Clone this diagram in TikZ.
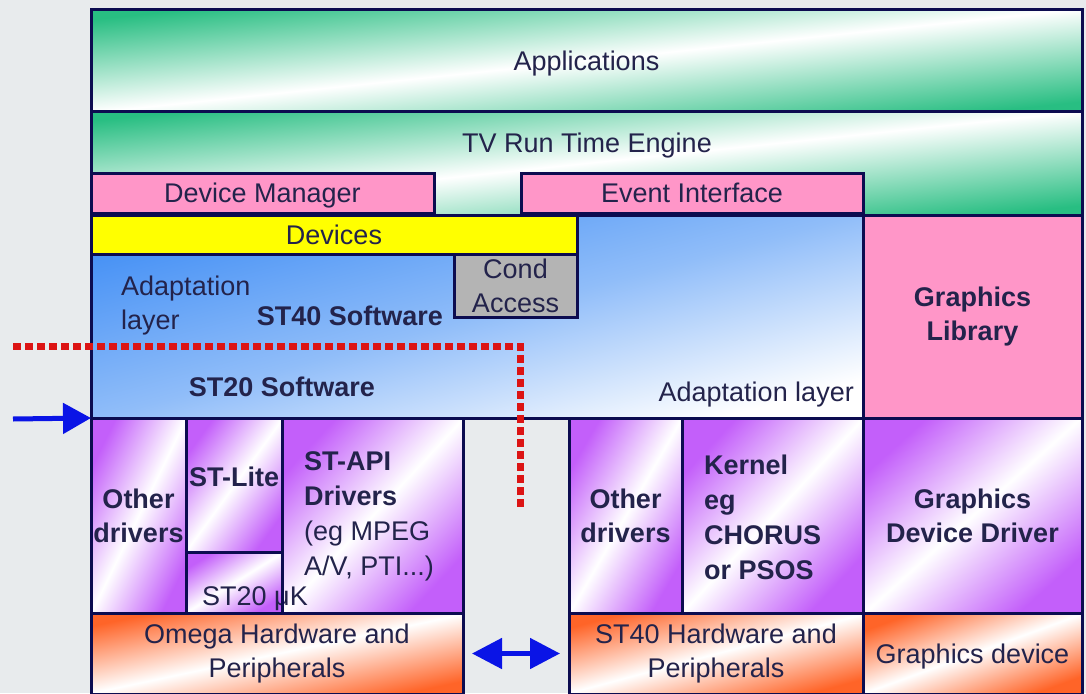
\documentclass[tikz,border=0pt]{standalone}
\usepackage{fontspec}
\setmainfont{Liberation Sans}
\usetikzlibrary{arrows.meta}
\definecolor{bggray}{RGB}{232,235,237}
\definecolor{frame}{RGB}{12,12,80}
\definecolor{ink}{RGB}{35,35,75}
\definecolor{appgreen}{RGB}{40,190,130}
\definecolor{mgrpink}{RGB}{255,150,200}
\definecolor{devyellow}{RGB}{255,255,0}
\definecolor{condgray}{RGB}{180,180,180}
\definecolor{swblue}{RGB}{70,145,245}
\definecolor{drvpurple}{RGB}{195,95,250}
\definecolor{hworange}{RGB}{255,100,40}
\definecolor{redline}{RGB}{220,20,20}
\definecolor{arrowblue}{RGB}{10,20,230}
\newcommand{\lblfont}{\fontsize{27}{34}\selectfont}
\tikzset{
  blk/.style={draw=frame, line width=3pt, inner sep=0pt, outer sep=0pt, anchor=north west,
    text=ink, align=center, font=\lblfont},
  lbl/.style={text=ink, inner sep=0pt, align=center, font=\lblfont},
  flat/.style={text depth=0pt},
  bold/.style={font=\lblfont\bfseries},
  greenfade/.style={left color=appgreen, right color=appgreen, middle color=white, shading angle=#1},
  bluefade/.style={left color=swblue, right color=white, middle color=swblue!60, shading angle=#1},
  purplefade/.style={left color=drvpurple, right color=drvpurple, middle color=white, shading angle=#1},
  orangefade/.style={left color=hworange, right color=hworange, middle color=white, shading angle=#1},
  redrule/.style={draw=redline, line width=7pt, dash pattern=on 8pt off 4pt},
  bluearrow/.style={draw=arrowblue, line width=5pt},
}
\begin{document}
\begin{tikzpicture}[x=1pt,y=-1pt]
    \fill[bggray] (0,0) rectangle (1086,693);
    \useasboundingbox (0,0) rectangle (1086,693);
    \node[blk, flat, greenfade=6, minimum width=991pt, minimum height=101pt] (apps) at (91,10) {Applications};
    \node[blk, greenfade=6, minimum width=991pt, minimum height=104pt] (tv) at (91,111) {};
    \node[lbl, flat] (tvtext) at (587,143) {TV Run Time Engine};
    \node[blk, flat, fill=mgrpink, minimum width=343pt, minimum height=40pt] (devmgr) at (91,173) {Device Manager};
    \node[blk, flat, fill=mgrpink, minimum width=342pt, minimum height=40pt] (evtif) at (521,173) {Event Interface};
    \node[blk, bluefade=15, minimum width=772pt, minimum height=203pt] (stsw) at (91,215) {};
    \node[blk, flat, fill=devyellow, minimum width=486pt, minimum height=39pt] (devs) at (91,215) {Devices};
    \node[blk, fill=condgray, minimum width=123pt, minimum height=63pt] (cond) at (454,254) {Cond\\Access};
    \node[blk, bold, fill=mgrpink, minimum width=219pt, minimum height=203pt] (gfxlib) at (863,215) {Graphics\\Library};
    \node[lbl, align=left, anchor=west] (adaptL) at (121,306) {Adaptation\\layer};
    \node[lbl, bold] (st40sw) at (350,316) {ST40 Software};
    \node[lbl, bold] (st20sw) at (282,387) {ST20 Software};
    \node[lbl, flat, anchor=east] (adaptR) at (854,392) {Adaptation layer};
    \node[blk, bold, purplefade=64, minimum width=95pt, minimum height=195pt] (othdrvL) at (91,418) {Other\\drivers};
    \node[blk, purplefade=54, minimum width=96pt, minimum height=134pt] (stlite) at (186,418) {};
    \node[lbl, bold] (stlitetext) at (234,477) {ST-Lite};
    \node[blk, purplefade=32, minimum width=96pt, minimum height=61pt] (ukern) at (186,552) {};
    \node[blk, purplefade=47, minimum width=181pt, minimum height=195pt] (stapi) at (282,418) {};
    \node[lbl, flat] (uktext) at (255,596) {ST20 μK};
    \draw[frame, line width=3pt] (stapi.north west) -- (stapi.south west);
    \node[lbl, align=left, anchor=west, font=\fontsize{27}{35}\selectfont] (apitext) at (304,516)
        {\textbf{ST-API}\\\textbf{Drivers}\\(eg MPEG\\A/V, PTI...)};
    \node[blk, bold, purplefade=60, minimum width=113pt, minimum height=195pt] (othdrvR) at (569,418) {Other\\drivers};
    \node[blk, purplefade=47, minimum width=181pt, minimum height=195pt] (kernel) at (682,418) {};
    \node[lbl, align=left, anchor=west, font=\fontsize{27}{35}\selectfont\bfseries] (kerntext) at (704,517)
        {Kernel\\eg\\CHORUS\\or PSOS};
    \node[blk, bold, purplefade=42, minimum width=219pt, minimum height=195pt] (gfxdrv) at (863,418) {Graphics\\Device Driver};
    \node[blk, orangefade=12, minimum width=372pt, minimum height=81pt] (omega) at (91,613) {Omega Hardware and\\Peripherals};
    \node[blk, orangefade=15, minimum width=294pt, minimum height=81pt] (sthw) at (569,613) {ST40 Hardware and\\Peripherals};
    \node[blk, flat, orangefade=20, minimum width=219pt, minimum height=81pt] (gfxdev) at (863,613) {Graphics device};
    \coordinate (redstart) at (13,346);
    \coordinate (redend) at (520,508);
    \draw[redrule] (redstart) -| (redend);
    \coordinate (arrowfrom) at (13,419);
    \draw[bluearrow, -{Triangle[length=28pt,width=30pt]}] (arrowfrom) -- (stsw.south west);
    \draw[bluearrow, {Triangle[length=30pt,width=30pt]}-{Triangle[length=30pt,width=30pt]},
        shorten <=9pt, shorten >=9pt] (omega.east) -- (sthw.west);
\end{tikzpicture}
\end{document}
